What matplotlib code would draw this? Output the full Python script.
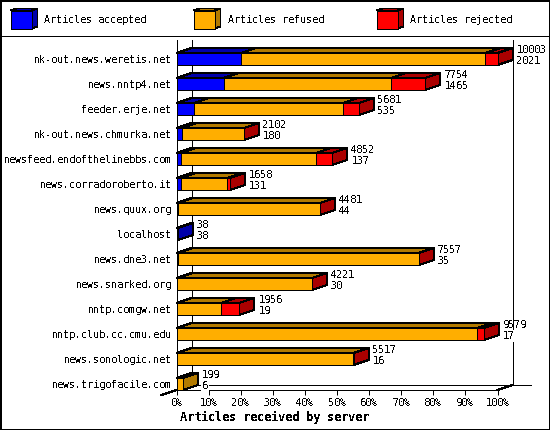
import matplotlib
matplotlib.use("Agg")
import matplotlib.pyplot as plt
from matplotlib.patches import Polygon, Rectangle

plt.rcParams["font.family"] = ["DejaVu Sans Mono"]
plt.rcParams["text.antialiased"] = False
plt.rcParams["text.hinting_factor"] = 1

# data
servers = ["nk-out.news.weretis.net", "news.nntp4.net", "feeder.erje.net",
           "nk-out.news.chmurka.net", "newsfeed.endofthelinebbs.com",
           "news.corradoroberto.it", "news.quux.org", "localhost", "news.dne3.net",
           "news.snarked.org", "nntp.comgw.net", "nntp.club.cc.cmu.edu",
           "news.sonologic.net", "news.trigofacile.com"]
totals = [10003, 7754, 5681, 2102, 4852, 1658, 4481, 38, 7557, 4221, 1956, 9579, 5517, 199]
accepted = [2021, 1465, 535, 180, 137, 131, 44, 38, 35, 30, 19, 17, 16, 6]
rejected = [374, 1060, 500, 5, 500, 70, 5, 0, 15, 5, 560, 205, 5, 0]
pct_ticks = [0, 10, 20, 30, 40, 50, 60, 70, 80, 90, 100]
legend_names = ["Articles accepted", "Articles refused", "Articles rejected"]

front = ["#0000ff", "#ffae00", "#ff0000"]
dark = ["#0000aa", "#b27a00", "#aa0000"]
BLACK_LW = 0.72
FS = 7.4

fig = plt.figure(figsize=(5.5, 4.3), dpi=100, facecolor="white")

# page axes in pixels, for the frame and the legend
page = fig.add_axes([0, 0, 1, 1], zorder=0)
page.set_xlim(0, 550)
page.set_ylim(430, 0)
page.axis("off")
page.add_patch(Rectangle((0.5, 0.5), 549, 429, fc="white", ec="black", lw=1.44, aa=False))
page.plot([0, 550], [35.5, 35.5], color="black", lw=BLACK_LW, aa=False)

for name, x, i in zip(legend_names, [10.5, 193.5, 376.5], range(3)):
    page.add_patch(Polygon([(x, 10.5), (x + 6, 8.5), (x + 27, 8.5), (x + 21, 10.5)],
                           fc=dark[i], ec="black", lw=BLACK_LW, aa=False))
    page.add_patch(Polygon([(x + 21, 10.5), (x + 27, 8.5), (x + 27, 26.5), (x + 21, 28.5)],
                           fc=dark[i], ec="black", lw=BLACK_LW, aa=False))
    page.add_patch(Rectangle((x, 10.5), 21, 18, fc=front[i], ec="black", lw=BLACK_LW, aa=False))
    page.text(x + 34, 20, name, fontsize=FS, va="center", ha="left")

page.text(274, 417, "Articles received by server", fontsize=8.6, weight="bold",
          ha="center", va="center")

# chart axes, front plane of the 3d box
ax = fig.add_axes([176.5 / 550, 40 / 430, 321 / 550, 350 / 430], zorder=1)
ax.patch.set_alpha(0)
xmax = max(totals)
ax.set_xlim(0, xmax)
ax.set_ylim(13.24, -0.76)

dx = 15 / 321 * xmax
dy = 5 / 25
h = 12 / 25 / 2

for s in ["top", "right"]:
    ax.spines[s].set_visible(False)
for s in ["left", "bottom"]:
    ax.spines[s].set_linewidth(BLACK_LW)
    ax.spines[s].set_antialiased(False)

ax.set_xticks([p / 100 * xmax for p in pct_ticks])
ax.set_xticklabels([f"{p}%" for p in pct_ticks], fontsize=FS)
ax.tick_params(axis="x", length=3.6, width=BLACK_LW, pad=2.5)
ax.set_yticks(range(len(servers)))
ax.set_yticklabels(servers, fontsize=FS)
ax.tick_params(axis="y", length=0, pad=3.5)

# back walls and floor of the box
ymax = 13.24
ax.plot([dx, dx], [-0.76, ymax - dy], color="black", lw=BLACK_LW, aa=False, clip_on=False, zorder=1)
ax.plot([xmax + dx, xmax + dx], [-0.76, ymax - dy], color="black", lw=BLACK_LW, aa=False, clip_on=False, zorder=1)
ax.plot([dx, xmax + 33 / 321 * xmax], [ymax - dy, ymax - dy], color="black", lw=BLACK_LW, aa=False, clip_on=False, zorder=1)
ax.plot([0, dx * -1], [ymax, ymax + dy], color="black", lw=BLACK_LW, aa=False, clip_on=False, zorder=1)
ax.plot([xmax, xmax + dx], [ymax, ymax - dy], color="black", lw=BLACK_LW, aa=False, clip_on=False, zorder=1)

for row in range(len(servers)):
    segs = [accepted[row], totals[row] - accepted[row] - rejected[row], rejected[row]]
    left = 0
    last = 0
    for i, w in enumerate(segs):
        if w <= 0:
            continue
        y0, y1 = row - h, row + h
        ax.add_patch(Polygon([(left, y0), (left + dx, y0 - dy), (left + w + dx, y0 - dy), (left + w, y0)],
                             fc=dark[i], ec="black", lw=BLACK_LW, aa=False, clip_on=False, zorder=3))
        ax.add_patch(Rectangle((left, y0), w, y1 - y0, fc=front[i], ec="black", lw=BLACK_LW,
                               aa=False, clip_on=False, zorder=4))
        left += w
        last = i
    y0, y1 = row - h, row + h
    ax.add_patch(Polygon([(left, y0), (left + dx, y0 - dy), (left + dx, y1 - dy), (left, y1)],
                         fc=dark[last], ec="black", lw=BLACK_LW, aa=False, clip_on=False, zorder=3))
    tx = left + 19 / 321 * xmax
    ax.text(tx, row - 9 / 25, str(totals[row]), fontsize=FS, va="center", ha="left", zorder=5)
    ax.text(tx, row + 2 / 25, str(accepted[row]), fontsize=FS, va="center", ha="left", zorder=5,
            bbox=dict(fc="white", ec="none", pad=0.5))

fig.savefig("out.png", dpi=100)
